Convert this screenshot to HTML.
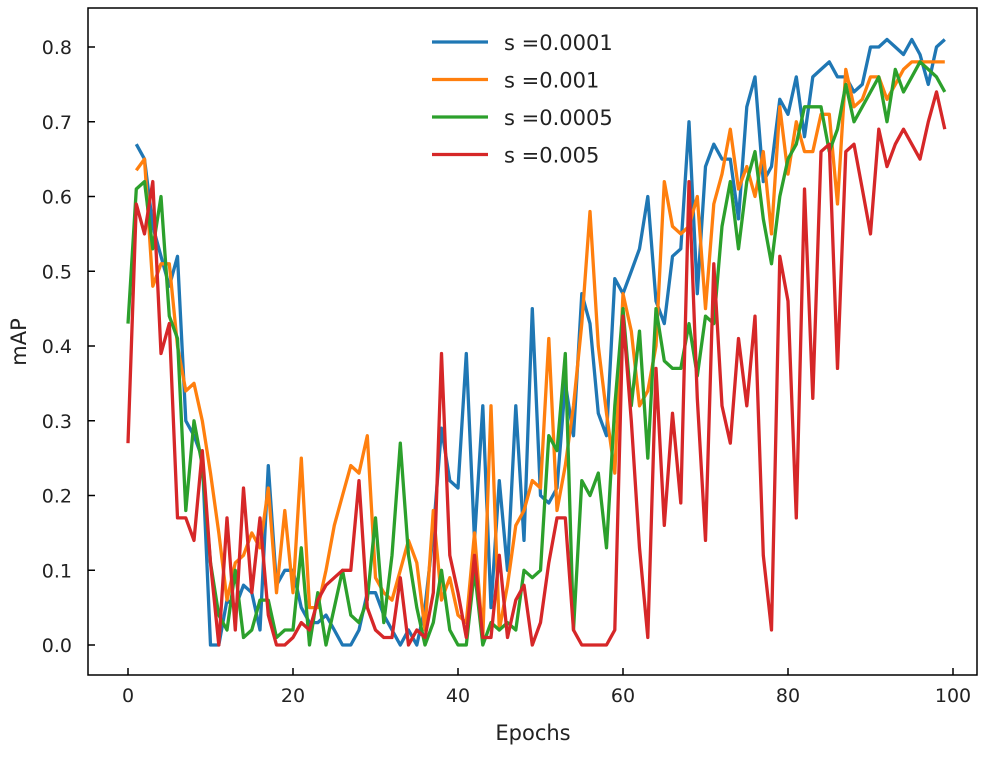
<!DOCTYPE html>
<html><head><meta charset="utf-8"><style>body{margin:0;background:#fff}svg text{font-family:"DejaVu Sans","Liberation Sans",sans-serif;fill:#222}</style></head>
<body><svg id="c" width="995" height="752" xmlns="http://www.w3.org/2000/svg"></svg>
<script>
const epochs=[...Array(100).keys()];
const xTicks=[0,20,40,60,80,100];
const yTicks=[0.0,0.1,0.2,0.3,0.4,0.5,0.6,0.7,0.8];
const seriesNames=["s =0.0001","s =0.001","s =0.0005","s =0.005"];
const colors=["#1f77b4","#ff7f0e","#2ca02c","#d62728"];
const blue=[null,0.67,0.65,0.56,0.52,0.48,0.52,0.30,0.28,0.25,0.0,0.0,0.06,0.05,0.08,0.07,0.02,0.24,0.08,0.10,0.10,0.05,0.03,0.03,0.04,0.02,0.0,0.0,0.02,0.07,0.07,0.04,0.02,0.0,0.02,0.0,0.05,0.15,0.29,0.22,0.21,0.39,0.14,0.32,0.05,0.22,0.10,0.32,0.14,0.45,0.20,0.19,0.21,0.35,0.28,0.47,0.43,0.31,0.28,0.49,0.47,0.50,0.53,0.60,0.46,0.43,0.52,0.53,0.70,0.47,0.64,0.67,0.65,0.65,0.57,0.72,0.76,0.62,0.64,0.73,0.71,0.76,0.68,0.76,0.77,0.78,0.76,0.76,0.74,0.75,0.80,0.80,0.81,0.80,0.79,0.81,0.79,0.75,0.80,0.81];
const orange=[null,0.635,0.65,0.48,0.51,0.51,0.40,0.34,0.35,0.30,0.23,0.15,0.06,0.11,0.12,0.15,0.13,0.21,0.07,0.18,0.07,0.25,0.05,0.05,0.10,0.16,0.20,0.24,0.23,0.28,0.09,0.07,0.06,0.10,0.14,0.11,0.02,0.18,0.06,0.09,0.04,0.03,0.15,0.01,0.32,0.02,0.08,0.16,0.18,0.22,0.21,0.41,0.18,0.24,0.32,0.43,0.58,0.40,0.31,0.23,0.47,0.42,0.32,0.34,0.40,0.62,0.56,0.55,0.56,0.60,0.45,0.59,0.63,0.69,0.61,0.64,0.60,0.66,0.55,0.72,0.63,0.70,0.66,0.66,0.71,0.71,0.59,0.77,0.72,0.73,0.76,0.76,0.73,0.75,0.77,0.78,0.78,0.78,0.78,0.78];
const green=[0.43,0.61,0.62,0.53,0.60,0.44,0.41,0.18,0.30,0.24,0.11,0.04,0.02,0.10,0.01,0.02,0.06,0.06,0.01,0.02,0.02,0.13,0.0,0.07,0.0,0.05,0.10,0.04,0.03,0.06,0.17,0.03,0.12,0.27,0.12,0.05,0.0,0.03,0.10,0.02,0.0,0.0,0.10,0.0,0.03,0.02,0.03,0.02,0.10,0.09,0.10,0.28,0.26,0.39,0.02,0.22,0.20,0.23,0.13,0.32,0.45,0.32,0.42,0.25,0.45,0.38,0.37,0.37,0.43,0.36,0.44,0.43,0.56,0.62,0.53,0.62,0.66,0.57,0.51,0.60,0.65,0.67,0.72,0.72,0.72,0.66,0.69,0.75,0.70,0.72,0.74,0.76,0.70,0.77,0.74,0.76,0.78,0.77,0.76,0.74];
const red=[0.27,0.59,0.55,0.62,0.39,0.43,0.17,0.17,0.14,0.26,0.11,0.0,0.17,0.02,0.21,0.07,0.17,0.04,0.0,0.0,0.01,0.03,0.02,0.06,0.08,0.09,0.10,0.10,0.22,0.05,0.02,0.01,0.01,0.09,0.0,0.02,0.01,0.07,0.39,0.12,0.07,0.01,0.12,0.01,0.01,0.12,0.01,0.06,0.08,0.0,0.03,0.11,0.17,0.17,0.02,0.0,0.0,0.0,0.0,0.02,0.44,0.30,0.13,0.01,0.37,0.16,0.31,0.19,0.62,0.33,0.14,0.51,0.32,0.27,0.41,0.32,0.44,0.12,0.02,0.52,0.46,0.17,0.61,0.33,0.66,0.67,0.37,0.66,0.67,0.61,0.55,0.69,0.64,0.67,0.69,0.67,0.65,0.70,0.74,0.69];
const all=[blue,orange,green,red];
const NS="http://www.w3.org/2000/svg",svg=document.getElementById('c');
const L=88,R=977,T=8,B=675;
const xs=v=>128+v*8.25, ys=v=>645-v*747.5;
function mk(t,a,p){const e=document.createElementNS(NS,t);for(const k in a)e.setAttribute(k,a[k]);(p||svg).appendChild(e);return e;}
all.forEach((s,i)=>{let d="",pen=false;s.forEach((v,j)=>{if(v==null){pen=false;return;}d+=(pen?"L":"M")+xs(epochs[j]).toFixed(1)+","+ys(v).toFixed(1);pen=true;});
const p=mk('path',{d:d,fill:'none',stroke:colors[i],'stroke-width':3.3,'stroke-linejoin':'round'});

});
const fr=mk('rect',{x:L,y:T,width:R-L,height:B-T,fill:'none',stroke:'#000','stroke-width':1.5});


xTicks.forEach(t=>{const x=xs(t);mk('line',{x1:x,x2:x,y1:B,y2:B-7,stroke:'#000','stroke-width':1.5});
const tx=mk('text',{x:x,y:702,'text-anchor':'middle','font-size':19});tx.textContent=t;

});
yTicks.forEach(t=>{const y=ys(t);mk('line',{x1:L,x2:L+7,y1:y,y2:y,stroke:'#000','stroke-width':1.5});
const tx=mk('text',{x:72,y:y+7,'text-anchor':'end','font-size':19});tx.textContent=t.toFixed(1);

});
const xt=mk('text',{x:533,y:740,'text-anchor':'middle','font-size':21});xt.textContent="Epochs";


const yt=mk('text',{x:26,y:342,'text-anchor':'middle','font-size':21,transform:'rotate(-90 26 342)'});yt.textContent="mAP";


seriesNames.forEach((n,i)=>{const y=42+i*37.5;const g=mk('g',{});


mk('line',{x1:432,x2:488,y1:y,y2:y,stroke:colors[i],'stroke-width':3.3},g);
const tx=mk('text',{x:504,y:y+8,'font-size':21},g);tx.textContent=n;});
</script></body></html>
